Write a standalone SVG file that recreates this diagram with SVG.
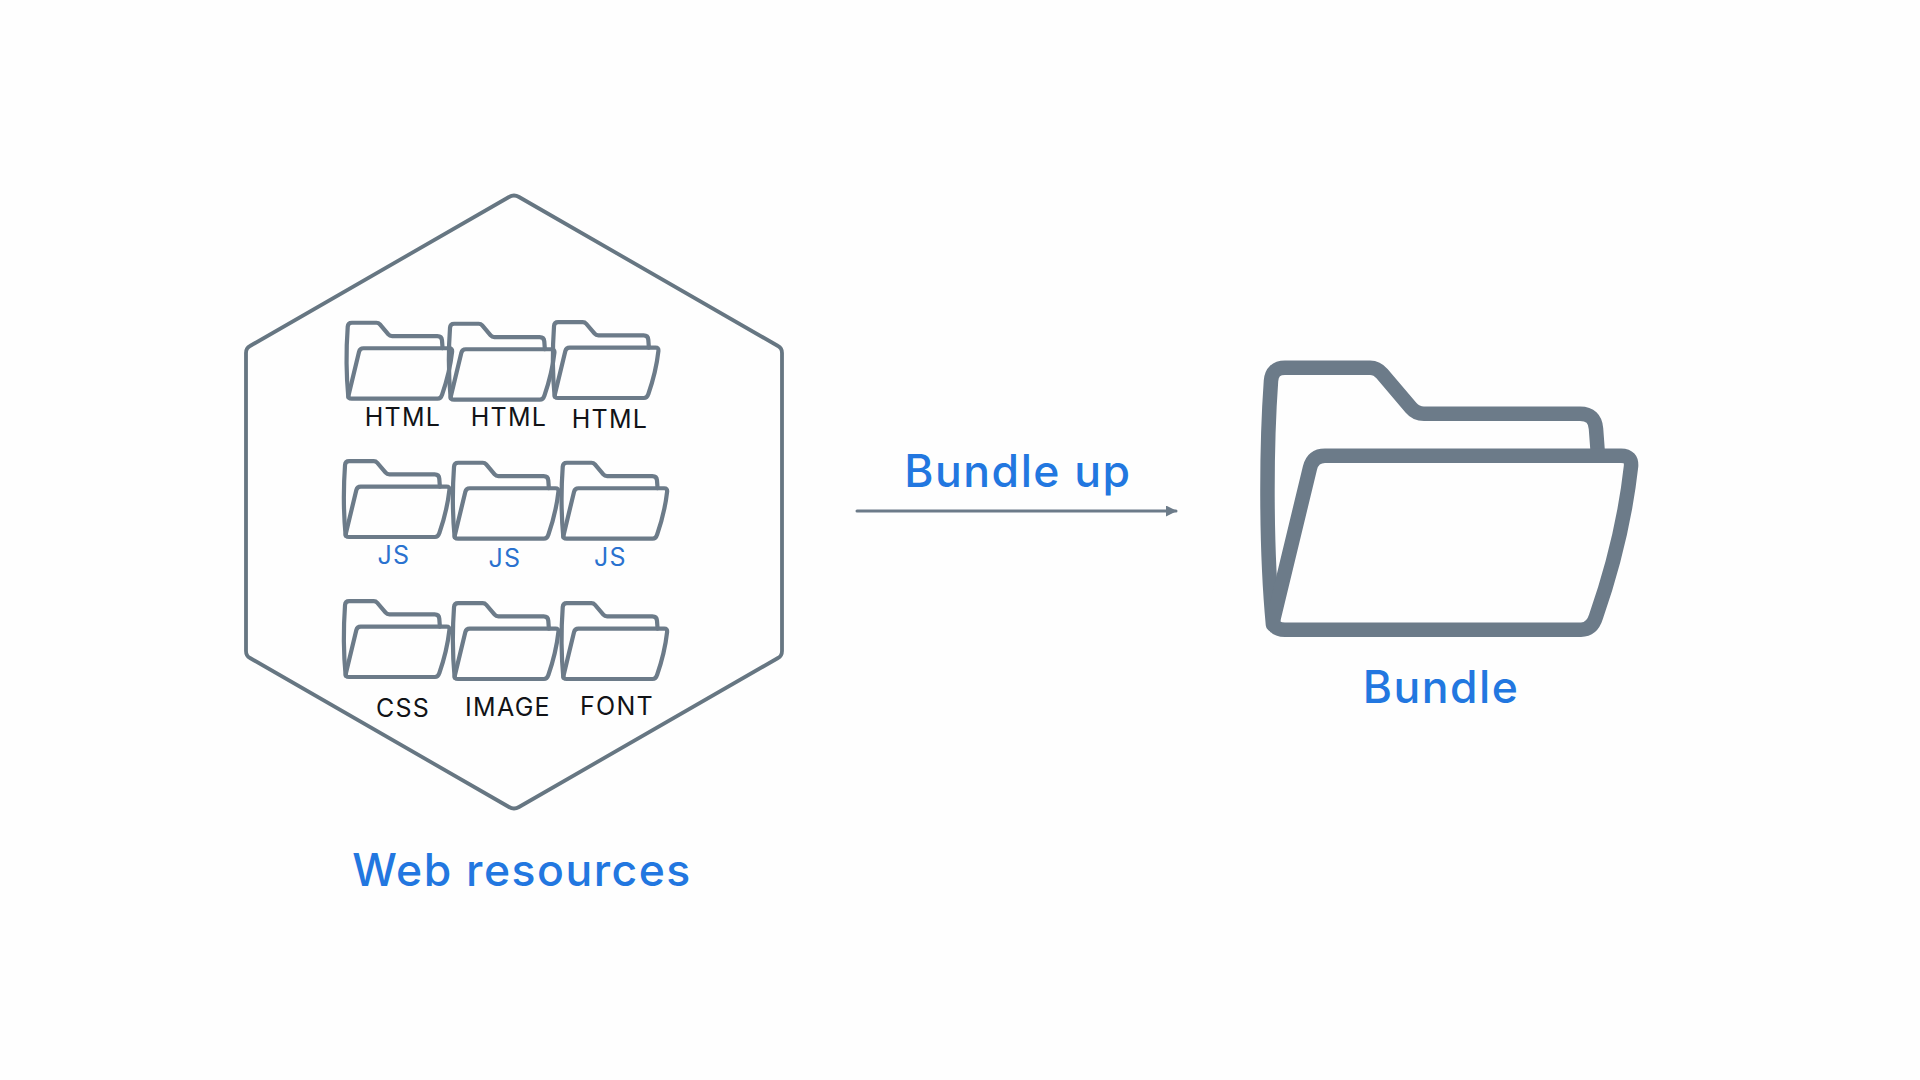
<svg xmlns="http://www.w3.org/2000/svg" xmlns:xlink="http://www.w3.org/1999/xlink" width="1920" height="1080" viewBox="0 0 1920 1080">
<style>
.f{fill:none;stroke:#6c7b89;stroke-width:14.5;stroke-linejoin:round;stroke-linecap:round}
.big{font-family:Inter,"Noto Sans",sans-serif;font-size:44.5px;font-weight:500;letter-spacing:1.5px;fill:#2277e0;text-anchor:middle}
.k{font-family:Inter,"Noto Sans",sans-serif;font-size:25px;font-weight:400;letter-spacing:1.3px;fill:#111317;text-anchor:middle}
.b{font-family:Inter,"Noto Sans",sans-serif;font-size:25px;font-weight:400;letter-spacing:1.3px;fill:#2a72cf;text-anchor:middle}
</style>
<defs>
<g id="folder">
<path class="f" d="M8,264 C1,190 1,90 6,20 Q7,7 20,7 L105,7 Q112,7 117,13 L146,47 Q151,53 159,53 L315,53 Q330,53 331,68 L333,95"/>
<path class="f" d="M60,95 L356,95 Q367,95 366,106 C360,160 347,210 331,256 Q327,269 316,269 L20,269 Q6,269 9,256 L45,107 Q48,95 60,95 Z"/>
</g>
<marker id="arrow" viewBox="0 0 11 11" refX="10" refY="5.5" markerWidth="11" markerHeight="11" markerUnits="userSpaceOnUse" orient="auto">
<path d="M0,0 L11,5.5 L0,11 Z" fill="#6c7b89"/>
</marker>
</defs>
<rect width="1920" height="1080" fill="#fefefe"/>
<g id="hexagon"><path d="M509,197 Q514,194 519,197 L778,346 Q782,348 782,353 L782,651 Q782,656 778,658 L519,807 Q514,810 509,807 L250,658 Q246,656 246,651 L246,353 Q246,348 250,346 Z" fill="none" stroke="#667682" stroke-width="3.8" stroke-linejoin="round"/></g>
<g id="html-1"><use xlink:href="#folder" transform="translate(346,320.7) scale(.29)"/><text class="k" x="403" y="426">HTML</text></g>
<g id="html-2"><use xlink:href="#folder" transform="translate(448.3,321.7) scale(.29)"/><text class="k" x="509" y="426">HTML</text></g>
<g id="html-3"><use xlink:href="#folder" transform="translate(552.3,320) scale(.29)"/><text class="k" x="610" y="428">HTML</text></g>
<g id="js-1"><use xlink:href="#folder" transform="translate(343.3,459) scale(.29)"/><text class="b" x="394" y="564">JS</text></g>
<g id="js-2"><use xlink:href="#folder" transform="translate(452.3,460.7) scale(.29)"/><text class="b" x="505" y="566.7">JS</text></g>
<g id="js-3"><use xlink:href="#folder" transform="translate(561,460.7) scale(.29)"/><text class="b" x="610.5" y="566">JS</text></g>
<g id="css"><use xlink:href="#folder" transform="translate(343.3,599) scale(.29)"/><text class="k" x="403" y="716.7">CSS</text></g>
<g id="image"><use xlink:href="#folder" transform="translate(452.3,601) scale(.29)"/><text class="k" x="508" y="716">IMAGE</text></g>
<g id="font"><use xlink:href="#folder" transform="translate(561,601) scale(.29)"/><text class="k" x="617" y="715">FONT</text></g>
<g id="web-label"><text class="big" x="522" y="886">Web resources</text></g>
<g id="bundle"><use xlink:href="#folder" transform="translate(1265,360.7)"/><text class="big" x="1441" y="703">Bundle</text></g>
<g id="connectors">
<line x1="857" y1="511" x2="1176" y2="511" stroke="#6c7b89" stroke-width="3" stroke-linecap="round" marker-end="url(#arrow)"/>
<text class="big" x="1018" y="487">Bundle up</text>
</g>
</svg>
